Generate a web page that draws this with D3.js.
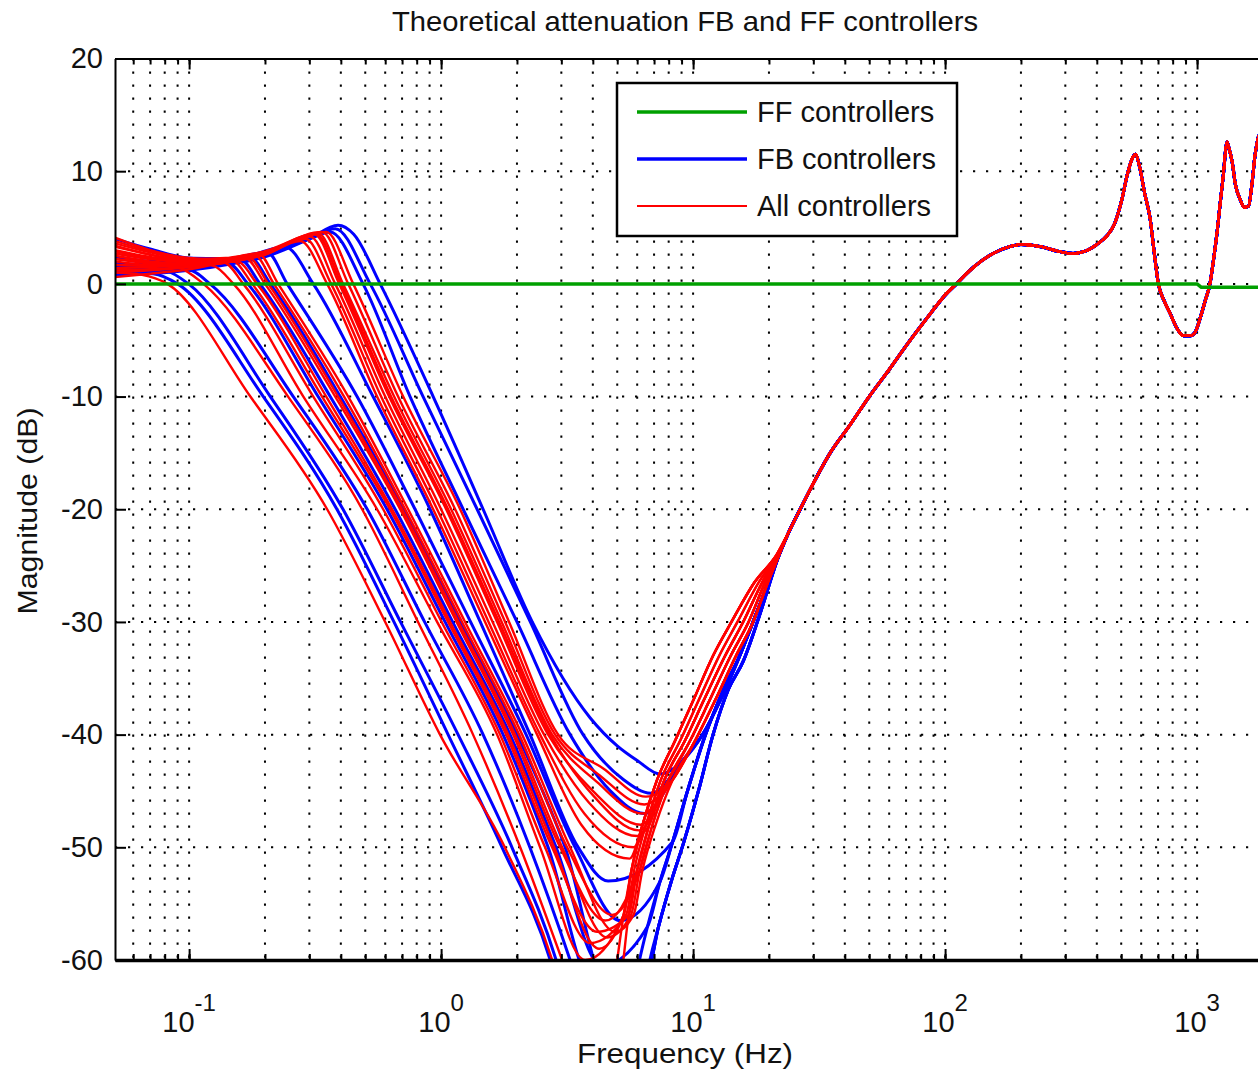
<!DOCTYPE html>
<html><head><meta charset="utf-8">
<script src="https://cdn.jsdelivr.net/npm/d3@7"></script>
<style>
body{margin:0;background:#fff;}
svg{display:block;font-family:"Liberation Sans",Arial,sans-serif;}
</style></head><body>
<svg id="chart" width="1258" height="1071"></svg>
<script>
// ---------------- data ----------------
const chartTitle = "Theoretical attenuation FB and FF controllers";
const xLabel = "Frequency (Hz)";
const yLabel = "Magnitude (dB)";
const majorFreqTicks = [0.1, 1, 10, 100, 1000];
const majorTickExponents = ["-1", "0", "1", "2", "3"];
const magnitudeTicks = [-60, -50, -40, -30, -20, -10, 0, 10, 20];
const legendLabels = ["FF controllers", "FB controllers", "All controllers"];

// FF controllers (green)
const ffCurve = [[0.0508, 0], [1000, 0], [1040, -0.3], [1800, -0.3]];

// shared high-frequency response (Hz, dB)
const commonTail = [[24,-22],[26.6,-20],[30,-17.7],[35,-15],[42,-12.5],[50,-10],[60,-7.6],[70,-5.5],[85,-3],[100,-1],[111,0],[130,1.5],[155,2.7],[180,3.3],[200,3.5],[240,3.3],[280,2.9],[322,2.7],[360,2.9],[400,3.5],[440,4.3],[470,5.3],[502,7.4],[530,9.8],[555,11.2],[570,11.5],[590,10.5],[620,8],[650,5.9],[680,2.3],[701,0.1],[740,-1.5],[781,-2.6],[830,-3.9],[883,-4.6],[940,-4.6],[982,-4.3],[1030,-3],[1077,-1.5],[1127,0.1],[1160,2],[1198,4.4],[1240,7.5],[1273,9.8],[1300,12],[1314,12.6],[1340,12],[1376,10.9],[1420,8.8],[1482,7.5],[1540,6.8],[1600,6.9],[1650,8.8],[1700,11.5],[1727,12.4],[1760,13.2],[1800,13]];

// rising branches after the notch
const redBranchL  = [[4.6,-65],[4.85,-62],[5.3,-56],[5.7,-52],[6.3,-48],[7.2,-44],[8.5,-40.5],[10.0,-37],[12.0,-33],[14.2,-30],[17.5,-26.5],[21.5,-24]];
const redBranchML = [[4.7,-65],[4.97,-62],[5.42,-56],[5.84,-52],[6.5,-48],[7.45,-44],[8.9,-40.5],[10.5,-37],[12.7,-33],[15.0,-30],[18.2,-26.5],[21.7,-24]];
const redBranchM  = [[4.8,-65],[5.1,-62],[5.55,-56],[6.0,-52],[6.7,-48],[7.7,-44],[9.3,-40.5],[11.0,-37],[13.4,-33],[15.8,-30],[18.8,-26.5],[21.8,-24]];
const redBranchMR = [[4.9,-65],[5.22,-62],[5.67,-56],[6.15,-52],[6.9,-48],[8.0,-44],[9.75,-40.5],[11.6,-37],[14.1,-33],[16.6,-30],[19.3,-26.5],[21.9,-24]];
const redBranchR  = [[5.0,-65],[5.35,-62],[5.8,-56],[6.3,-52],[7.1,-48],[8.3,-44],[10.2,-40.5],[12.2,-37],[14.8,-33],[17.3,-30],[19.8,-26.5],[22,-24]];
const blueBranchDeep    = [[6.2,-65],[6.6,-61],[7.3,-57],[8.2,-53],[9.2,-49.5],[10.5,-45],[12,-40],[13.8,-36],[15.8,-33.5],[18.3,-29.5],[22,-24]];
const blueBranchMid     = [[5.6,-65],[6.0,-61],[6.6,-57],[7.4,-53],[8.3,-49.5],[9.5,-45],[11.2,-40],[13.2,-36],[15.3,-33],[18,-29],[22,-24]];
const blueBranchShallow = [[9.1,-42.3],[10.9,-40],[12.8,-37],[15.0,-33.5],[18,-29],[22,-24]];

// FB controllers (blue): low-frequency part down to the notch
const fbCurves = [
  [[0.0508,1.1],[0.072,0.9],[0.09,0],[0.197,-10],[0.386,-20],[0.65,-30],[1.066,-40],[1.745,-50],[2.71,-60],[3.3,-67]],
  [[0.0508,1.6],[0.08,1.2],[0.0995,0],[0.21,-10],[0.408,-20],[0.69,-30],[1.168,-40],[1.91,-50],[2.86,-60],[3.4,-66]],
  [[0.0508,0.9],[0.1,1.2],[0.121,0],[0.259,-10],[0.509,-20],[0.86,-30],[1.468,-40],[2.25,-50],[3.25,-60],[3.6,-63]],
  [[0.0508,0.8],[0.07,1.0],[0.1,1.4],[0.143,1.8],[0.171,0],[0.325,-10],[0.61,-20],[1.037,-30],[1.762,-40],[2.659,-50],[4.01,-62]],
  [[0.0508,4.0],[0.07,3.1],[0.1,2.3],[0.159,2.2],[0.191,0],[0.363,-10],[0.657,-20],[1.111,-30],[1.878,-40],[2.86,-50],[4.32,-60.5]],
  [[0.0508,1.0],[0.07,1.1],[0.1,1.4],[0.14,1.9],[0.175,2.3],[0.21,0],[0.398,-10],[0.707,-20],[1.19,-30],[2.003,-40],[3.105,-50],[4.69,-63]],
  [[0.0508,1.8],[0.07,1.7],[0.1,1.8],[0.14,2.1],[0.204,2.8],[0.245,0],[0.464,-10],[0.788,-20],[1.309,-30],[2.175,-40],[3.403,-50],[5.14,-56.5]],
  [[0.0508,1.5],[0.07,1.5],[0.1,1.7],[0.15,2.0],[0.24,3.3],[0.311,0],[0.537,-10],[0.904,-20],[1.43,-30],[2.255,-40],[3.5,-50],[4.6,-53]],
  [[0.0508,2.4],[0.07,2.0],[0.1,1.9],[0.15,2.1],[0.2,2.7],[0.3,4.0],[0.363,4.6],[0.49,0],[0.753,-10],[1.223,-20],[2.0,-30],[3.25,-40],[4.7,-45],[6.4,-47]],
  [[0.0508,1.3],[0.07,1.3],[0.1,1.5],[0.15,2.0],[0.2,2.6],[0.3,4.0],[0.38,4.9],[0.523,0],[0.848,-10],[1.39,-20],[2.26,-30],[3.66,-40],[5.3,-44],[6.8,-45.2]],
  [[0.0508,0.8],[0.07,0.9],[0.1,1.2],[0.15,1.8],[0.2,2.4],[0.3,4.0],[0.39,5.2],[0.45,4.4],[0.573,0],[0.93,-10],[1.468,-20],[2.3,-30],[3.9,-38.5],[5.0,-41],[6.0,-42.3],[7.4,-43.5]]
];
const fbBranch = ["deep","mid","deep","deep","mid","deep","mid","mid","shallow","shallow","shallow"];

// All controllers (red): low-frequency part down to the notch
const allCurves = [
  [[0.0508,1.0],[0.065,0.8],[0.082,0],[0.175,-10],[0.353,-20],[0.6,-30],[0.99,-40],[1.79,-50],[2.76,-60],[3.3,-66]],
  [[0.0508,2.2],[0.09,1.5],[0.114,0],[0.247,-10],[0.486,-20],[0.81,-30],[1.339,-40],[2.06,-50],[3.02,-60],[3.5,-64]],
  [[0.0508,3.3],[0.07,2.6],[0.1,1.9],[0.125,1.6],[0.15,0],[0.284,-10],[0.557,-20],[0.964,-30],[1.668,-40],[2.471,-50],[3.73,-60]],
  [[0.0508,2.2],[0.07,1.8],[0.1,1.6],[0.137,1.9],[0.164,0],[0.311,-10],[0.589,-20],[1.005,-30],[1.714,-40],[2.586,-50],[3.9,-58.5]],
  [[0.0508,4.1],[0.07,3.0],[0.1,2.3],[0.148,2.1],[0.178,0],[0.337,-10],[0.627,-20],[1.066,-30],[1.811,-40],[2.757,-50],[4.16,-57.5]],
  [[0.0508,1.4],[0.07,1.5],[0.1,1.7],[0.167,2.3],[0.2,0],[0.38,-10],[0.688,-20],[1.152,-30],[1.931,-40],[2.967,-50],[4.48,-56.5]],
  [[0.0508,3.0],[0.07,2.4],[0.1,2.0],[0.14,2.2],[0.188,2.7],[0.2255,0],[0.428,-10],[0.74,-20],[1.245,-30],[2.097,-40],[3.251,-50],[4.91,-57.5]],
  [[0.0508,0.6],[0.07,0.9],[0.1,1.3],[0.155,2.0],[0.186,0],[0.35,-10],[0.639,-20],[1.086,-30],[1.845,-40],[2.808,-50],[4.24,-59]],
  [[0.0508,2.7],[0.07,2.2],[0.1,1.9],[0.14,2.1],[0.171,2.4],[0.206,0],[0.39,-10],[0.70,-20],[1.173,-30],[1.966,-40],[3.022,-50],[4.56,-58]],
  [[0.0508,3.6],[0.07,2.8],[0.1,2.2],[0.14,2.3],[0.181,2.6],[0.217,0],[0.412,-10],[0.72,-20],[1.211,-30],[2.04,-40],[3.162,-50],[4.77,-56]],
  [[0.0508,2.0],[0.07,1.7],[0.1,1.7],[0.15,2.0],[0.2,2.6],[0.276,3.8],[0.353,0],[0.557,-10],[0.93,-20],[1.495,-30],[2.404,-40],[3.6,-48],[5.6,-51]],
  [[0.0508,3.8],[0.07,2.9],[0.1,2.2],[0.15,2.2],[0.2,2.7],[0.289,4.0],[0.366,0],[0.578,-10],[0.964,-20],[1.543,-30],[2.471,-40],[3.7,-47],[5.8,-50]],
  [[0.0508,1.2],[0.07,1.3],[0.1,1.5],[0.15,2.0],[0.2,2.6],[0.302,4.2],[0.38,0],[0.60,-10],[1.0,-20],[1.601,-30],[2.562,-40],[3.85,-46],[6.0,-49]],
  [[0.0508,2.9],[0.07,2.3],[0.1,2.0],[0.15,2.2],[0.2,2.8],[0.314,4.4],[0.394,0],[0.622,-10],[1.047,-20],[1.668,-30],[2.659,-40],[4.0,-45],[6.2,-48]],
  [[0.0508,1.7],[0.07,1.6],[0.1,1.7],[0.15,2.1],[0.2,2.7],[0.325,4.5],[0.408,0],[0.651,-10],[1.096,-20],[1.739,-30],[2.757,-40],[4.15,-44.2],[6.3,-47]],
  [[0.0508,3.4],[0.07,2.6],[0.1,2.1],[0.15,2.3],[0.2,2.9],[0.337,4.6],[0.428,0],[0.675,-10],[1.137,-20],[1.795,-30],[2.835,-40],[4.25,-43.6],[6.4,-46.2]],
  [[0.0508,2.5],[0.07,2.0],[0.1,1.8],[0.15,2.1],[0.2,2.8],[0.35,4.6],[0.448,0],[0.707,-10],[1.19,-20],[1.861,-30],[2.913,-40],[4.4,-43],[6.5,-45.5]],
  [[0.0508,1.0],[0.07,1.2],[0.1,1.5],[0.15,2.0],[0.2,2.7],[0.32,4.4],[0.401,0],[0.633,-10],[1.066,-20],[1.699,-30],[2.707,-40],[4.05,-45.5],[6.1,-48.5]]
];
const allBranch = ["L","M","L","ML","M","M","R","L","MR","MR","L","ML","M","MR","R","R","R","MR"];

// ---------------- drawing ----------------
const branchTable = {
  L: redBranchL, ML: redBranchML, M: redBranchM, MR: redBranchMR, R: redBranchR,
  deep: blueBranchDeep, mid: blueBranchMid, shallow: blueBranchShallow
};
function assemble(pts, branchName) {
  const [fn, dn] = pts[pts.length - 1];
  const br = branchTable[branchName].filter(p => p[0] > fn && p[1] > dn + 0.8);
  const lastF = br.length ? br[br.length - 1][0] : fn;
  return pts.concat(br, commonTail.filter(p => p[0] > lastF));
}

const svg = d3.select("#chart");
const L = 115, T = 58.5, B = 960, R = 1261.4;
const x = d3.scaleLog().domain([0.0508, 1800]).range([L, R]);
const y = d3.scaleLinear().domain([-60, 20]).range([B, T]);

svg.append("defs").append("clipPath").attr("id", "clip")
  .append("rect").attr("x", L).attr("y", T).attr("width", R - L).attr("height", B - T);

// grid
const grid = svg.append("g").attr("stroke", "#000").attr("stroke-width", 2)
  .attr("stroke-dasharray", "2.2 10.8").attr("fill", "none");
grid.selectAll("line.v").data(x.ticks()).join("line").attr("class", "v")
  .attr("x1", d => x(d)).attr("x2", d => x(d)).attr("y1", T).attr("y2", B);
grid.selectAll("line.h").data(magnitudeTicks.filter(d => d > -60 && d < 20)).join("line").attr("class", "h")
  .attr("x1", L).attr("x2", R).attr("y1", d => y(d)).attr("y2", d => y(d));

// curves
const line = d3.line().x(d => x(d[0])).y(d => y(d[1])).curve(d3.curveMonotoneX);
const curves = svg.append("g").attr("clip-path", "url(#clip)").attr("fill", "none")
  .attr("stroke-linejoin", "round");
curves.selectAll("path.fb").data(fbCurves.map((c, i) => assemble(c, fbBranch[i]))).join("path")
  .attr("class", "fb").attr("d", line).attr("stroke", "#0000ff").attr("stroke-width", 3);
curves.selectAll("path.all").data(allCurves.map((c, i) => assemble(c, allBranch[i]))).join("path")
  .attr("class", "all").attr("d", line).attr("stroke", "#ff0000").attr("stroke-width", 2.4);
curves.append("path").datum(ffCurve).attr("d", d3.line().x(d => x(d[0])).y(d => y(d[1])))
  .attr("stroke", "#00a000").attr("stroke-width", 3.5);

// axes
const axisStyle = g => { g.selectAll("line").attr("stroke", "#000").attr("stroke-width", 2); g.selectAll("text").remove(); };
svg.append("g").attr("transform", `translate(0,${B})`)
  .call(d3.axisBottom(x).tickValues(x.ticks()).tickSize(-6).tickSizeOuter(0).tickFormat(""))
  .call(axisStyle).call(g => g.select(".domain").attr("stroke", "#000").attr("stroke-width", 3.5));
svg.append("g").attr("transform", `translate(0,${B})`)
  .call(d3.axisBottom(x).tickValues(majorFreqTicks).tickSize(-11).tickFormat(""))
  .call(axisStyle).call(g => g.select(".domain").remove());
svg.append("g").attr("transform", `translate(0,${T})`)
  .call(d3.axisTop(x).tickValues(x.ticks()).tickSize(-6).tickSizeOuter(0).tickFormat(""))
  .call(axisStyle).call(g => g.select(".domain").attr("stroke", "#000").attr("stroke-width", 2));
svg.append("g").attr("transform", `translate(0,${T})`)
  .call(d3.axisTop(x).tickValues(majorFreqTicks).tickSize(-11).tickFormat(""))
  .call(axisStyle).call(g => g.select(".domain").remove());
const yAxis = svg.append("g").attr("transform", `translate(${L},0)`)
  .call(d3.axisLeft(y).tickValues(magnitudeTicks).tickSize(-11).tickSizeOuter(0).tickPadding(12)
    .tickFormat(d => String(d)));
yAxis.select(".domain").attr("stroke", "#000").attr("stroke-width", 2);
yAxis.selectAll("line").attr("stroke", "#000").attr("stroke-width", 2);
yAxis.selectAll("text").attr("font-size", 29).attr("fill", "#111")
  .attr("font-family", "Liberation Sans, Arial, sans-serif");

// x tick labels 10^n
const xl = svg.append("g").attr("font-size", 29).attr("fill", "#111").attr("text-anchor", "middle");
majorFreqTicks.forEach((v, i) => {
  const t = xl.append("text").attr("x", x(v)).attr("y", 1032);
  t.append("tspan").text("10");
  t.append("tspan").attr("dy", -21).attr("font-size", 24).text(majorTickExponents[i]);
});

// titles
svg.append("text").attr("x", 685).attr("y", 31).attr("text-anchor", "middle")
  .attr("font-size", 28).attr("fill", "#111").attr("textLength", 586).attr("lengthAdjust", "spacingAndGlyphs")
  .text(chartTitle);
svg.append("text").attr("x", 685).attr("y", 1063).attr("text-anchor", "middle")
  .attr("font-size", 28).attr("fill", "#111").attr("textLength", 216).attr("lengthAdjust", "spacingAndGlyphs")
  .text(xLabel);
svg.append("text").attr("transform", "translate(37,511) rotate(-90)").attr("text-anchor", "middle")
  .attr("font-size", 28).attr("fill", "#111").attr("textLength", 207).attr("lengthAdjust", "spacingAndGlyphs")
  .text(yLabel);

// legend
const lg = svg.append("g");
lg.append("rect").attr("x", 617).attr("y", 83).attr("width", 340).attr("height", 153)
  .attr("fill", "#fff").attr("stroke", "#000").attr("stroke-width", 2.5);
const legendColors = ["#00a000", "#0000ff", "#ff0000"];
const legendWidths = [3.5, 3.5, 1.8];
const legendY = d3.scalePoint().domain(legendLabels).range([112, 206]);
legendLabels.forEach((lab, i) => {
  lg.append("line").attr("x1", 637).attr("x2", 747).attr("y1", legendY(lab)).attr("y2", legendY(lab))
    .attr("stroke", legendColors[i]).attr("stroke-width", legendWidths[i]);
  lg.append("text").attr("x", 757).attr("y", legendY(lab) + 10).attr("font-size", 29).attr("fill", "#111")
    .text(lab);
});
</script></body></html>
